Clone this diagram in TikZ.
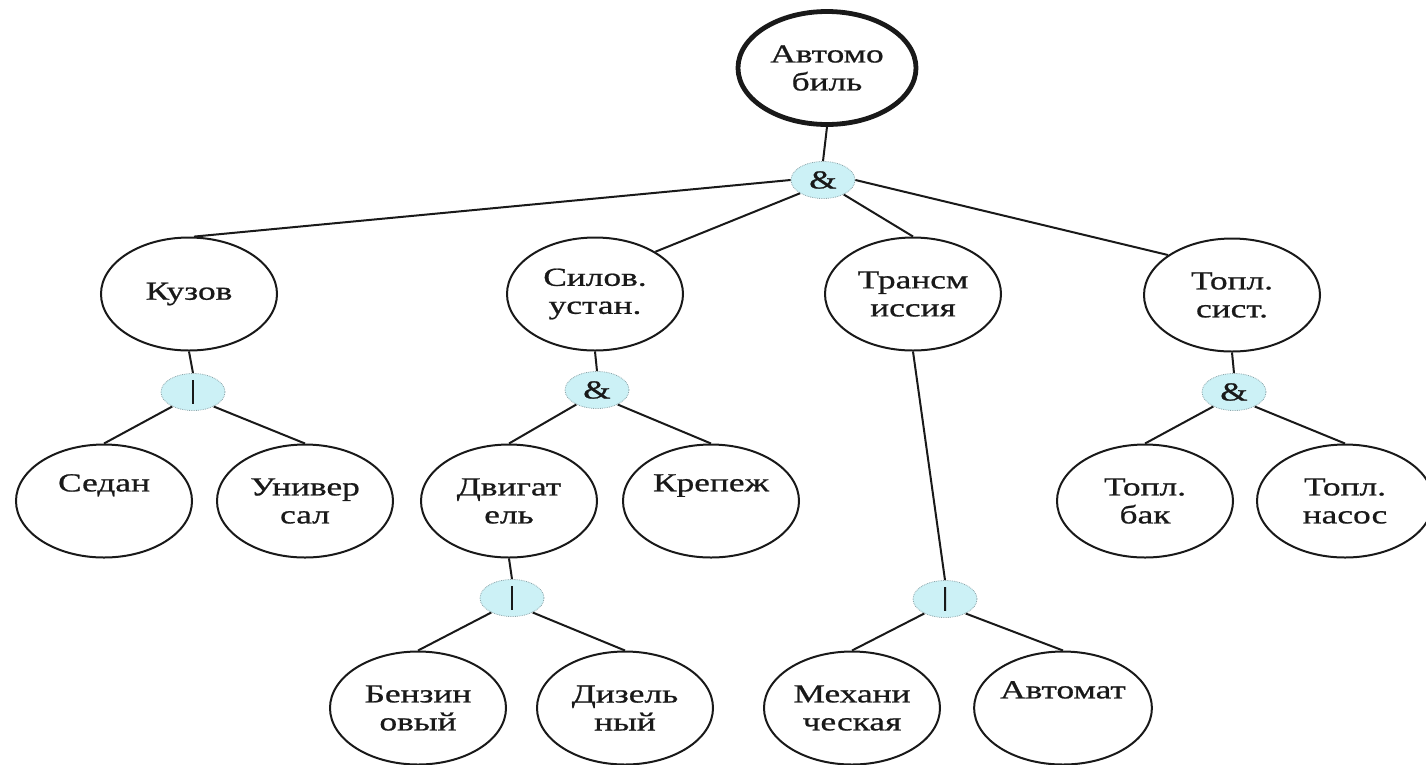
\documentclass[tikz,border=0pt]{standalone}
\usepackage{fontspec}
\setmainfont{Liberation Serif}[FakeStretch=1.36,FakeBold=0.8]
\usetikzlibrary{shapes.geometric}
\definecolor{ink}{RGB}{25,25,25}
\definecolor{gatefill}{RGB}{204,241,246}
\definecolor{gateedge}{RGB}{140,165,170}
\begin{document}
\begin{tikzpicture}[x=1pt,y=-1pt,
  every node/.style={font=\fontsize{26}{28}\selectfont, text=ink},
  part/.style={ellipse, draw=ink, line width=2pt, minimum width=176pt,
    minimum height=113pt, inner sep=0pt, align=center},
  root/.style={part, line width=4.8pt, minimum width=178pt},
  gate/.style={ellipse, draw=gateedge, densely dotted, line width=0.8pt,
    fill=gatefill, minimum width=64pt, minimum height=37pt, inner sep=0pt},
  link/.style={draw=ink, line width=2pt}]
\useasboundingbox (0,0) rectangle (1426,764);

% root and first level
\node[root] (auto) at (827,68) {Автомо\\биль};
\node[gate] (g0) at (823,180) {\&};
\node[part] (kuzov) at (189,294) {Кузов};
\node[part] (silov) at (595,294) {Силов.\\устан.};
\node[part] (trans) at (913,294) {Трансм\\иссия};
\node[part] (topl) at (1232,295) {Топл.\\сист.};

% second level
\node[gate] (g1) at (193,392) {|};
\node[gate] (g2) at (597,390) {\&};
\node[gate] (g4) at (1234,392) {\&};
\node[part] (sedan) at (104,501) {Седан\\\strut};
\node[part] (univ) at (305,501) {Универ\\сал};
\node[part] (dvig) at (509,501) {Двигат\\ель};
\node[part] (krep) at (711,501) {Крепеж\\\strut};
\node[part] (bak) at (1145,501) {Топл.\\бак};
\node[part] (nasos) at (1345,501) {Топл.\\насос};

% third level
\node[gate] (g3) at (512,598) {|};
\node[gate] (g5) at (945,599) {|};
\node[part] (benz) at (418,708) {Бензин\\овый};
\node[part] (dizel) at (625,708) {Дизель\\ный};
\node[part] (mech) at (852,708) {Механи\\ческая};
\node[part] (avtomat) at (1063,708) {Автомат\\\strut};

% connectors
\draw[link] (auto.south) -- (g0.north);
\draw[link] (g0.west) -- (kuzov.85);
\draw[link] (g0.-150) -- (silov.35);
\draw[link] (g0.-35) -- (trans.north);
\draw[link] (g0.east) -- (topl.148);

\draw[link] (kuzov.south) -- (g1.north);
\draw[link] (g1.-145) -- (sedan.north);
\draw[link] (g1.-35) -- (univ.north);

\draw[link] (silov.south) -- (g2.north);
\draw[link] (g2.-145) -- (dvig.north);
\draw[link] (g2.-35) -- (krep.north);

\draw[link] (topl.south) -- (g4.north);
\draw[link] (g4.-145) -- (bak.north);
\draw[link] (g4.-35) -- (nasos.north);

\draw[link] (dvig.south) -- (g3.north);
\draw[link] (g3.-145) -- (benz.north);
\draw[link] (g3.-35) -- (dizel.north);

\draw[link] (trans.south) -- (g5.north);
\draw[link] (g5.-145) -- (mech.north);
\draw[link] (g5.-35) -- (avtomat.north);
\end{tikzpicture}
\end{document}
